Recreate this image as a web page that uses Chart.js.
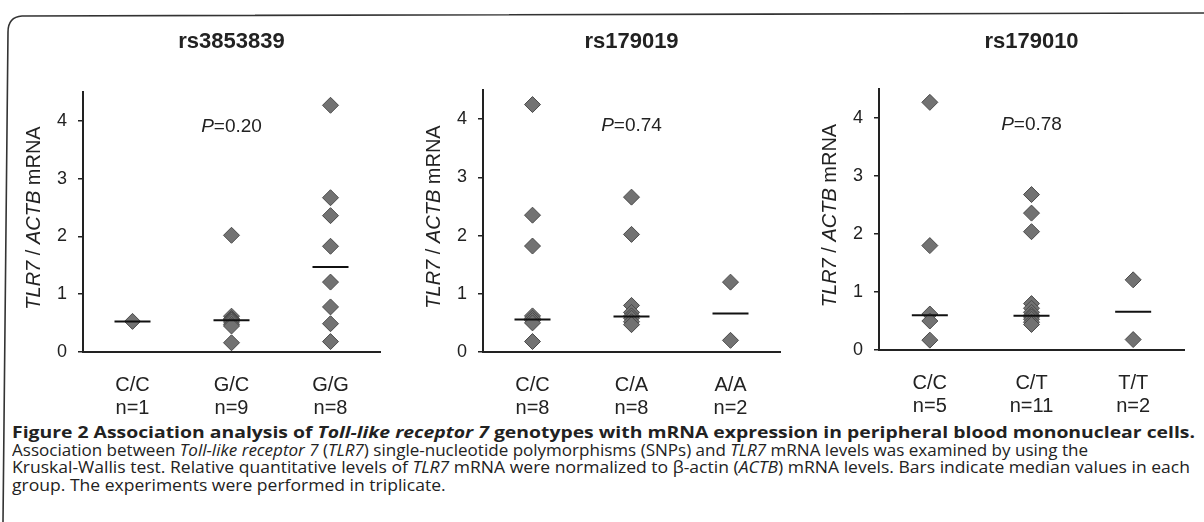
<!DOCTYPE html>
<html>
<head>
<meta charset="utf-8">
<script src="https://cdn.jsdelivr.net/npm/chart.js@4"></script>
<style>
  html, body { margin: 0; padding: 0; background: #fff; }
  body { width: 1204px; height: 522px; position: relative; overflow: hidden; }
  canvas { position: absolute; top: 0; }
  #frame { position: absolute; left: 0; top: 0; }
  #caption { position: absolute; left: 12px; top: 424px; font-family: "Open Sans", sans-serif; color: #222; font-size: 15.5px; }
  #caption .l { height: 17.7px; line-height: 17.7px; white-space: nowrap; }
  #caption .l span { display: inline-block; transform-origin: 0 50%; }
  #caption .b { font-weight: 700; }
</style>
</head>
<body>
<svg id="frame" width="1204" height="522">
  <path d="M 3 522 L 8 32 Q 8 17 22 16 L 1204 13" fill="none" stroke="#333" stroke-width="1.6"/>
</svg>
<canvas id="c1" width="390" height="420" style="left:10px"></canvas>
<canvas id="c2" width="390" height="420" style="left:410px"></canvas>
<canvas id="c3" width="398" height="420" style="left:806px"></canvas>
<div id="caption">
  <div class="l b" data-w="1183"><span>Figure 2 Association analysis of <i>Toll-like receptor 7</i> genotypes with mRNA expression in peripheral blood mononuclear cells.</span></div>
  <div class="l" data-w="1076"><span>Association between <i>Toll-like receptor 7</i> (<i>TLR7</i>) single-nucleotide polymorphisms (SNPs) and <i>TLR7</i> mRNA levels was examined by using the</span></div>
  <div class="l" data-w="1178"><span>Kruskal-Wallis test. Relative quantitative levels of <i>TLR7</i> mRNA were normalized to β-actin (<i>ACTB</i>) mRNA levels. Bars indicate median values in each</span></div>
  <div class="l"><span>group. The experiments were performed in triplicate.</span></div>
</div>
<script>
const yTicks = [0, 1, 2, 3, 4];
const yMax = 4.5;

// rs3853839
const snp1Groups = ["C/C", "G/C", "G/G"];
const snp1N = ["n=1", "n=9", "n=8"];
const snp1CC = [0.53];
const snp1GC = [2.02, 0.62, 0.58, 0.56, 0.55, 0.52, 0.48, 0.45, 0.16];
const snp1GG = [4.27, 2.67, 2.36, 1.83, 1.21, 0.78, 0.49, 0.18];
const snp1Median = [0.53, 0.55, 1.47];

// rs179019
const snp2Groups = ["C/C", "C/A", "A/A"];
const snp2N = ["n=8", "n=8", "n=2"];
const snp2CC = [4.25, 2.35, 1.82, 0.62, 0.58, 0.54, 0.50, 0.18];
const snp2CA = [2.66, 2.02, 0.80, 0.68, 0.62, 0.58, 0.52, 0.47];
const snp2AA = [1.20, 0.20];
const snp2Median = [0.56, 0.61, 0.66];

// rs179010
const snp3Groups = ["C/C", "C/T", "T/T"];
const snp3N = ["n=5", "n=11", "n=2"];
const snp3CC = [4.27, 1.80, 0.62, 0.50, 0.17];
const snp3CT = [2.68, 2.36, 2.04, 0.80, 0.72, 0.65, 0.60, 0.57, 0.53, 0.48, 0.44];
const snp3TT = [1.21, 0.18];
const snp3Median = [0.60, 0.59, 0.66];

const FONT = "'Liberation Sans', Arial, sans-serif";
const INK = "#222";

// title, P value and the mixed-italic axis title
const panelText = {
  id: "panelText",
  afterDraw(chart, args, opts) {
    const { ctx, chartArea } = chart;
    const cx = (chartArea.left + chartArea.right) / 2;
    ctx.save();
    ctx.fillStyle = INK;
    ctx.textBaseline = "middle";
    ctx.textAlign = "center";
    ctx.font = `bold 22px ${FONT}`;
    ctx.fillText(opts.title, cx, 42);

    const drawRuns = (runs, x, y) => {
      let total = 0;
      runs.forEach((r) => { ctx.font = r.font; total += ctx.measureText(r.t).width; });
      let pos = x - total / 2;
      ctx.textAlign = "left";
      runs.forEach((r) => { ctx.font = r.font; ctx.fillText(r.t, pos, y); pos += ctx.measureText(r.t).width; });
    };
    drawRuns([
      { t: "P", font: `italic 19px ${FONT}` },
      { t: "=" + opts.p, font: `19px ${FONT}` },
    ], cx, opts.pY);

    ctx.translate(chartArea.left - 49, (chartArea.top + chartArea.bottom) / 2 - 4);
    ctx.rotate(-Math.PI / 2);
    drawRuns([
      { t: "TLR7", font: `italic 20px ${FONT}` },
      { t: " / ", font: `20px ${FONT}` },
      { t: "ACTB", font: `italic 20px ${FONT}` },
      { t: " mRNA", font: `20px ${FONT}` },
    ], 0, 0);
    ctx.restore();
  },
};

function makePanel(id, title, p, groups, nLabels, values, medians, box) {
  const points = [];
  values.forEach((arr, i) => arr.forEach((v) => points.push({ x: groups[i], y: v })));
  const medianPts = medians.map((v, i) => ({ x: groups[i], y: v }));

  new Chart(document.getElementById(id), {
    type: "line",
    data: {
      labels: groups,
      datasets: [
        {
          data: medianPts, order: 0, showLine: false,
          pointStyle: "line", pointRadius: 18, borderColor: "#111", pointBorderWidth: 2,
        },
        {
          data: points, order: 1, showLine: false,
          pointStyle: "rectRot", pointRadius: 8,
          pointBackgroundColor: "#727272", pointBorderColor: "#4a4a4a", pointBorderWidth: 1,
        },
      ],
    },
    options: {
      responsive: false,
      animation: false,
      events: [],
      layout: { padding: { left: 0, right: box.right, top: box.top, bottom: 0 } },
      plugins: {
        legend: { display: false },
        tooltip: { enabled: false },
        panelText: { title, p, pY: box.pY },
      },
      scales: {
        x: {
          type: "category",
          offset: true,
          grid: { display: false },
          border: { display: true, color: INK, width: 2 },
          ticks: {
            color: INK, font: { family: FONT, size: 20, lineHeight: 1.15 }, padding: 14, maxRotation: 0,
            callback: (v, i) => [groups[i], nLabels[i]],
          },
          afterFit: (s) => { s.height = box.xh; },
        },
        y: {
          min: 0, max: yMax,
          grid: { drawOnChartArea: false, drawTicks: true, tickLength: 5, color: INK, lineWidth: 1.5 },
          border: { color: INK, width: 2 },
          ticks: { color: INK, font: { family: FONT, size: 18 }, padding: 11 },
          afterBuildTicks: (s) => { s.ticks = yTicks.map((v) => ({ value: v })); },
          afterFit: (s) => { s.width = 73; },
        },
      },
    },
    plugins: [panelText],
  });
}

makePanel("c1", "rs3853839", "0.20", snp1Groups, snp1N, [snp1CC, snp1GC, snp1GG], snp1Median,
  { top: 92, xh: 68, right: 0, pY: 127 });
makePanel("c2", "rs179019", "0.74", snp2Groups, snp2N, [snp2CC, snp2CA, snp2AA], snp2Median,
  { top: 90, xh: 68, right: 0, pY: 126 });
makePanel("c3", "rs179010", "0.78", snp3Groups, snp3N, [snp3CC, snp3CT, snp3TT], snp3Median,
  { top: 89, xh: 70, right: 7, pY: 125 });

// squeeze caption lines to the printed widths
let lastScale = 1;
document.querySelectorAll("#caption .l").forEach((el) => {
  const span = el.querySelector("span");
  if (el.dataset.w) lastScale = +el.dataset.w / span.getBoundingClientRect().width;
  span.style.transform = `scaleX(${lastScale})`;
});
</script>
</body>
</html>
